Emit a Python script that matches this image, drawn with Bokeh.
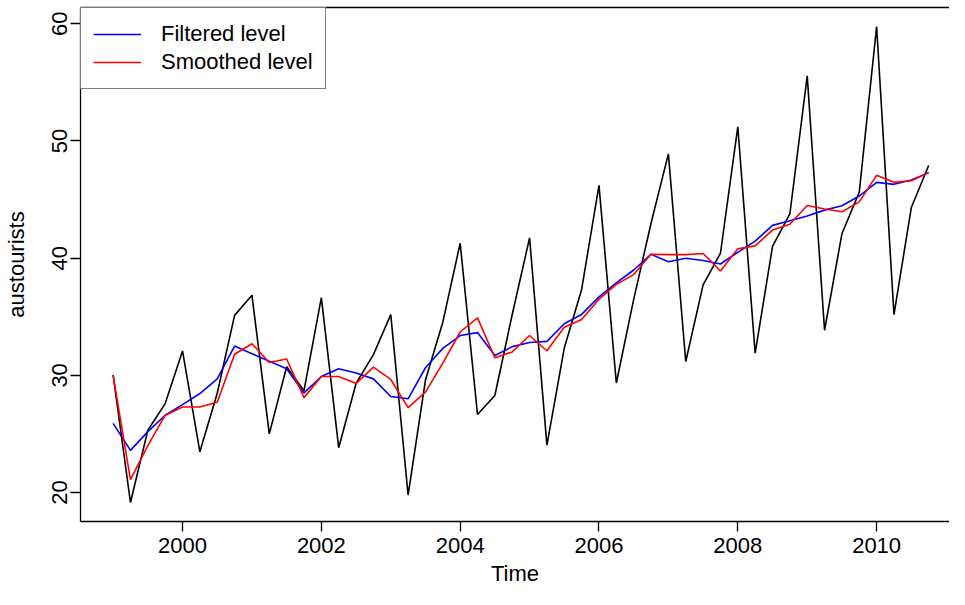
from bokeh.plotting import figure
from bokeh.models import Range1d, FixedTicker, Legend, LegendItem, LinearAxis
from bokeh.embed import file_html
from bokeh.resources import INLINE

# Quarterly time index, 1999 Q1 .. 2010 Q4
start_year = 1999
n_quarters = 48
time = [start_year + q / 4 for q in range(n_quarters)]

austourists = [
    30.05, 19.15, 25.32, 27.59,
    32.08, 23.48, 28.47, 35.12,
    36.84, 25.01, 30.73, 28.69,
    36.64, 23.83, 29.31, 31.77,
    35.18, 19.79, 29.60, 34.54,
    41.27, 26.66, 28.28, 35.19,
    41.73, 24.04, 32.33, 37.33,
    46.21, 29.35, 36.48, 42.98,
    48.90, 31.18, 37.72, 40.42,
    51.21, 31.89, 41.00, 43.77,
    55.56, 33.85, 42.08, 45.64,
    59.77, 35.19, 44.32, 47.91,
]

filtered_level = [
    25.9, 23.6, 25.2, 26.6,
    27.5, 28.45, 29.7, 32.5,
    31.85, 31.2, 30.56, 28.5,
    29.9, 30.56, 30.2, 29.7,
    28.2, 28.0, 30.65, 32.3,
    33.4, 33.65, 31.7, 32.45,
    32.8, 32.9, 34.4, 35.2,
    36.7, 37.9, 38.99, 40.33,
    39.7, 40.0, 39.8, 39.5,
    40.5, 41.45, 42.8, 43.2,
    43.6, 44.1, 44.47, 45.3,
    46.47, 46.3, 46.67, 47.3,
]

smoothed_level = [
    30.0, 21.1, 24.0, 26.6,
    27.3, 27.3, 27.7, 31.8,
    32.7, 31.1, 31.4, 28.1,
    29.9, 29.9, 29.3, 30.7,
    29.65, 27.25, 28.57, 31.05,
    33.7, 34.9, 31.5, 32.0,
    33.4, 32.1, 34.1, 34.76,
    36.5, 37.76, 38.6, 40.33,
    40.3, 40.3, 40.4, 38.9,
    40.8, 41.05, 42.4, 42.9,
    44.5, 44.2, 43.96, 44.8,
    47.07, 46.47, 46.6, 47.3,
]

x_ticks = [2000, 2002, 2004, 2006, 2008, 2010]
y_ticks = [20, 30, 40, 50, 60]

FONT = "Liberation Sans"
FS = "22px"

p = figure(
    width=949, height=589,
    x_range=Range1d(1998.53, 2011.05),
    y_range=Range1d(17.53, 61.39),
    output_backend="svg", toolbar_location=None,
    min_border_left=80, min_border_right=0,
    min_border_top=7, min_border_bottom=68,
)
p.grid.visible = False
p.outline_line_color = None
p.background_fill_color = "white"
p.border_fill_color = "white"

for ax in (p.xaxis[0], p.yaxis[0]):
    ax.axis_line_color = "black"
    ax.axis_line_width = 1.3
    ax.major_tick_line_color = "black"
    ax.major_tick_line_width = 1.3
    ax.major_tick_out = 10
    ax.major_tick_in = 0
    ax.minor_tick_line_color = None
    ax.major_label_text_font = FONT
    ax.major_label_text_font_size = FS
    ax.major_label_text_color = "black"
    ax.axis_label_text_font = FONT
    ax.axis_label_text_font_size = FS
    ax.axis_label_text_font_style = "normal"
    ax.axis_label_text_color = "black"

p.xaxis[0].ticker = FixedTicker(ticks=x_ticks)
p.yaxis[0].ticker = FixedTicker(ticks=y_ticks)
p.xaxis[0].axis_label = "Time"
p.yaxis[0].axis_label = "austourists"
p.yaxis[0].major_label_orientation = "vertical"
p.xaxis[0].major_label_standoff = 6
p.xaxis[0].axis_label_standoff = 5
p.yaxis[0].major_label_standoff = 3
p.yaxis[0].axis_label_standoff = 21

# top edge of the plot box (the right edge falls outside the picture)
top_axis = LinearAxis(ticker=FixedTicker(ticks=[]), axis_line_color="black",
                      axis_line_width=1.3, major_tick_line_color=None,
                      minor_tick_line_color=None, major_label_text_font_size="0px")
p.add_layout(top_axis, "above")

p.line(time, austourists, line_color="black", line_width=1.6)
r_f = p.line(time, filtered_level, line_color="blue", line_width=1.6)
r_s = p.line(time, smoothed_level, line_color="red", line_width=1.6)

legend = Legend(
    items=[LegendItem(label="Filtered level", renderers=[r_f]),
           LegendItem(label="Smoothed level", renderers=[r_s])],
    location="top_left", margin=0, padding=12, spacing=0,
    glyph_width=48, label_standoff=20, label_height=28, glyph_height=28,
    label_text_font=FONT, label_text_font_size=FS, label_text_color="black",
    border_line_color="black", border_line_width=1.3,
    background_fill_alpha=1.0,
)
p.add_layout(legend)

open("out.html", "w").write(file_html(p, INLINE))
